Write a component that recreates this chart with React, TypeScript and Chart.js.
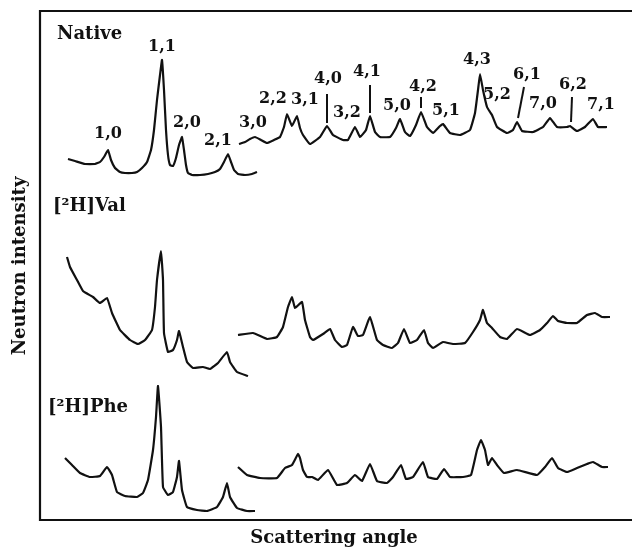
import React, { useEffect, useRef } from "react";
import { Chart, registerables } from "chart.js";
Chart.register(...registerables);

// Scattering angle (arbitrary units), neutron intensity (arbitrary units)
const nativeLow: [number, number][] = [
  [68,361],[75,359],[85,356],[95,356],[100,358],[104,363],[108,370],[111,360],[115,352],[120,348],[125,347],[132,347],[137,348],[142,352],[147,358],[151,370],[154,390],[157,420],[160,445],[162,460],[164,430],[166,390],[168,365],[170,355],[173,354],[176,362],[179,375],[182,383],[184,370],[186,355],[188,347],[192,345],[200,345],[208,346],[215,348],[220,351],[224,358],[228,366],[231,358],[234,350],[238,346],[245,345],[252,346],[257,348],
];
const nativeHigh: [number, number][] = [
  [239,376],[245,378],[250,381],[255,383],[261,380],[267,377],[274,380],[280,383],[284,393],[287,406],[292,394],[297,404],[300,392],[303,385],[310,376],[320,383],[327,394],[333,385],[343,380],[348,380],[355,393],[360,383],[366,390],[370,404],[375,388],[380,383],[390,383],[396,392],[400,401],[405,388],[410,384],[416,395],[421,408],[427,393],[433,387],[440,394],[443,396],[450,387],[460,385],[470,390],[475,407],[478,430],[480,446],[483,430],[487,413],[490,408],[492,405],[497,393],[507,387],[513,390],[517,398],[522,389],[533,388],[543,393],[550,402],[557,393],[567,393],[570,394],[577,389],[585,393],[593,401],[598,393],[607,393],
];
const valLow: [number, number][] = [
  [67,263],[70,253],[77,240],[83,229],[93,223],[100,217],[107,222],[112,207],[120,190],[130,180],[138,176],[145,180],[152,190],[155,213],[157,240],[161,269],[163,240],[164,187],[168,168],[173,170],[177,180],[179,189],[183,173],[187,158],[193,152],[203,153],[210,151],[218,157],[227,168],[230,158],[237,148],[248,144],
];
const valHigh: [number, number][] = [
  [238,185],[253,187],[267,181],[277,183],[283,193],[288,213],[292,223],[295,212],[302,218],[305,200],[310,183],[313,180],[323,186],[330,191],[335,180],[342,173],[347,175],[353,193],[358,184],[363,185],[370,203],[377,180],[383,175],[392,172],[398,177],[404,191],[410,177],[417,180],[424,190],[428,177],[433,172],[443,178],[453,176],[465,177],[473,188],[480,200],[483,210],[487,197],[492,192],[500,183],[507,181],[517,191],[530,185],[540,190],[547,197],[553,204],[558,199],[567,197],[577,197],[587,205],[595,207],[602,203],[610,203],
];
const pheLow: [number, number][] = [
  [65,62],[72,55],[80,47],[90,43],[100,44],[107,53],[112,45],[117,28],[125,24],[137,23],[143,27],[148,40],[153,70],[156,103],[158,134],[161,93],[163,33],[168,25],[173,28],[177,43],[179,59],[182,30],[187,13],[197,10],[207,9],[217,13],[223,23],[227,37],[230,23],[237,12],[247,9],[255,9],
];
const pheHigh: [number, number][] = [
  [238,53],[247,45],[260,42],[277,42],[285,52],[292,55],[298,66],[300,62],[303,50],[307,43],[312,43],[318,40],[328,50],[337,35],[347,37],[355,45],[362,39],[370,56],[377,39],[387,37],[393,43],[401,55],[406,41],[413,43],[423,58],[428,43],[437,41],[444,51],[450,43],[463,43],[471,45],[477,70],[481,80],[485,70],[488,55],[492,62],[497,55],[504,47],[517,50],[537,45],[545,53],[552,62],[558,52],[567,48],[577,52],[587,56],[593,58],[602,53],[608,53],
];

// Reflection (h,k) labels on the Native trace
const reflectionLabels = ["1,0","1,1","2,0","2,1","3,0","2,2","3,1","4,0","3,2","4,1","5,0","4,2","5,1","4,3","5,2","6,1","7,0","6,2","7,1"];
const reflectionX = [108,162,187,218,253,273,305,328,347,367,397,423,446,477,497,527,543,573,601];
const reflectionY = [386,473,397,379,397,421,420,441,407,448,414,433,409,460,425,445,416,435,415];

// Leader lines: [xTop, yTop, xBottom, yBottom]
const leaders: [number, number, number, number][] = [
  [327,426,327,397],
  [370,435,370,407],
  [421,423,421,412],
  [524,433,518,402],
  [572,423,571,398],
];

const panelNames = ["Native", "[²H]Val", "[²H]Phe"];
const panelX = [57, 53, 48];
const panelY = [486, 314, 113];

const xTitle = "Scattering angle";
const yTitle = "Neutron intensity";

const FONT = "'DejaVu Serif', serif";

export default function App() {
  const ref = useRef<HTMLCanvasElement | null>(null);
  useEffect(() => {
    if (!ref.current) return;
    const toXY = (a: [number, number][]) => a.map(([x, y]) => ({ x, y }));
    const traces = [nativeLow, nativeHigh, valLow, valHigh, pheLow, pheHigh];
    const datasets: any[] = traces.map((t) => ({
      data: toXY(t),
      showLine: true,
      borderColor: "#111",
      borderWidth: 2.2,
      pointRadius: 0,
      tension: 0.1,
    }));
    leaders.forEach((l) => {
      datasets.push({
        data: [{ x: l[0], y: l[1] }, { x: l[2], y: l[3] }],
        showLine: true,
        borderColor: "#111",
        borderWidth: 2,
        pointRadius: 0,
      });
    });
    const textPlugin = {
      id: "texts",
      afterDraw(chart: any) {
        const { ctx, chartArea: ca, scales } = chart;
        const xs = scales.x, ys = scales.y;
        ctx.save();
        ctx.strokeStyle = "#111";
        ctx.lineWidth = 2.2;
        ctx.beginPath();
        ctx.moveTo(ca.right, ca.top);
        ctx.lineTo(ca.left, ca.top);
        ctx.lineTo(ca.left, ca.bottom);
        ctx.lineTo(ca.right, ca.bottom);
        ctx.stroke();
        ctx.fillStyle = "#111";
        ctx.textAlign = "center";
        ctx.textBaseline = "middle";
        ctx.font = `bold 16px ${FONT}`;
        reflectionLabels.forEach((t, i) => {
          ctx.fillText(t, xs.getPixelForValue(reflectionX[i]), ys.getPixelForValue(reflectionY[i]));
        });
        ctx.textAlign = "left";
        ctx.font = `bold 18px ${FONT}`;
        panelNames.forEach((t, i) => {
          ctx.fillText(t, xs.getPixelForValue(panelX[i]), ys.getPixelForValue(panelY[i]));
        });
        ctx.textAlign = "center";
        ctx.font = `bold 18px ${FONT}`;
        ctx.fillText(xTitle, 334, 538);
        ctx.translate(20, 266);
        ctx.rotate(-Math.PI / 2);
        ctx.fillText(yTitle, 0, 0);
        ctx.restore();
      },
    };
    const chart = new Chart(ref.current, {
      type: "scatter",
      data: { datasets },
      options: {
        animation: false,
        responsive: false,
        layout: { padding: { left: 40, right: 0, top: 11, bottom: 30 } },
        plugins: { legend: { display: false }, tooltip: { enabled: false } },
        scales: {
          x: { type: "linear", min: 40, max: 632, display: false },
          y: { type: "linear", min: 0, max: 509, display: false },
        },
      },
      plugins: [textPlugin],
    });
    return () => chart.destroy();
  }, []);
  return (
    <div style={{ position: "fixed", left: 0, top: 0, width: 632, height: 550, background: "#fff" }}>
      <canvas ref={ref} width={632} height={550} />
    </div>
  );
}
